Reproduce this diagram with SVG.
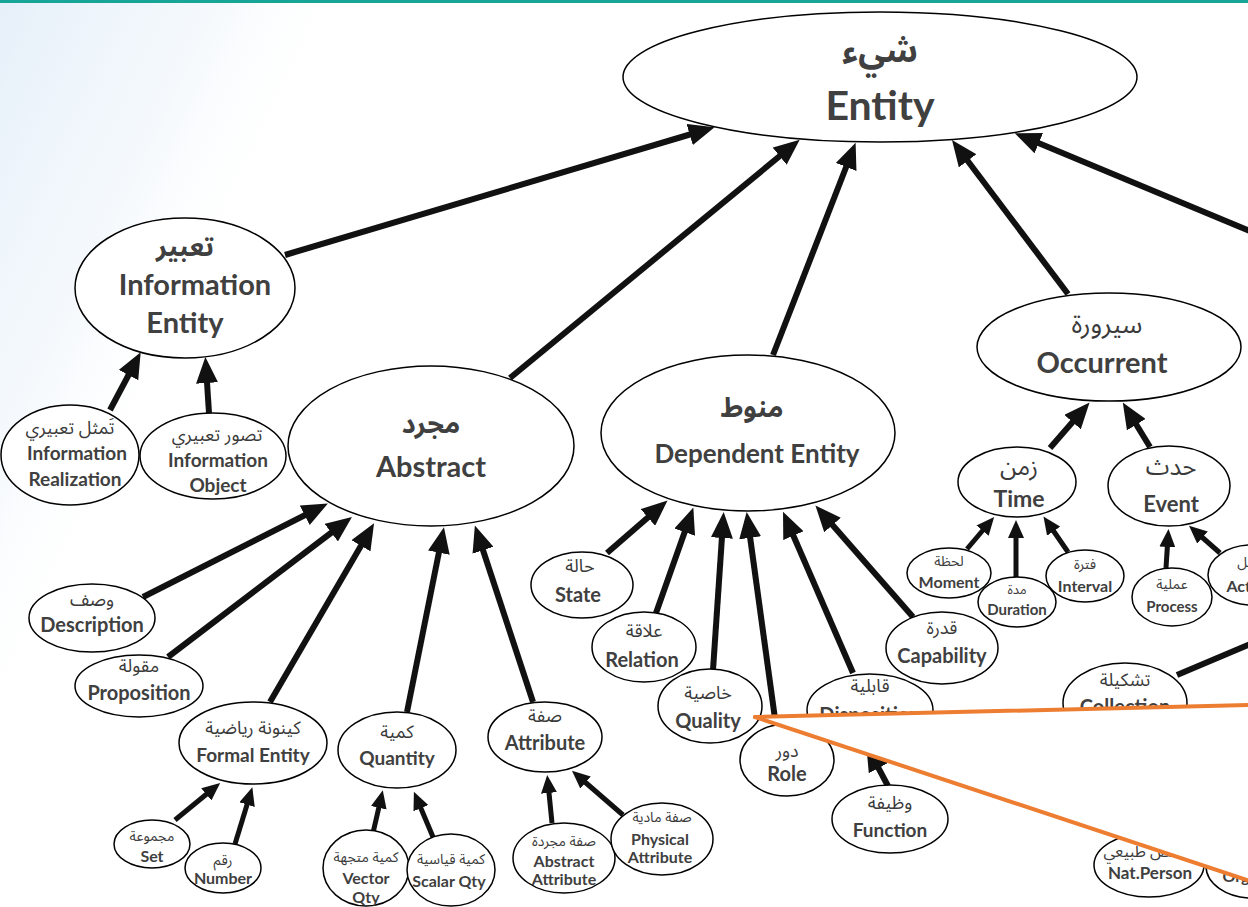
<svg xmlns="http://www.w3.org/2000/svg" width="1248" height="907" viewBox="0 0 1248 907">
<defs>
<linearGradient id="bg" x1="0" y1="0" x2="0.5" y2="0.5">
<stop offset="0" stop-color="#e3eef8" stop-opacity="0.9"/>
<stop offset="0.6" stop-color="#eef5fb" stop-opacity="0.6"/>
<stop offset="1" stop-color="#ffffff" stop-opacity="0"/>
</linearGradient>
<marker id="ah" markerUnits="userSpaceOnUse" markerWidth="26" markerHeight="22" refX="16" refY="11" orient="auto">
<path d="M0,0 L26,11 L0,22 z" fill="#111"/>
</marker>
<marker id="as" markerUnits="userSpaceOnUse" markerWidth="18" markerHeight="16" refX="10" refY="8" orient="auto">
<path d="M0,0 L18,8 L0,16 z" fill="#111"/>
</marker>
<style>
.e{fill:#fff;stroke:#000;stroke-width:1.5}
.t{font-family:Lato,"Noto Sans Arabic","DejaVu Sans",sans-serif;fill:#404040;font-weight:700;text-anchor:middle}
.a{font-family:"Noto Sans Arabic","DejaVu Sans",sans-serif;fill:#3a3a3a;font-weight:400;text-anchor:middle}
.big{stroke:#111;stroke-width:6;fill:none;marker-end:url(#ah)}
.sm{stroke:#111;stroke-width:5;fill:none;marker-end:url(#as)}
.co{stroke:#ed7d31;stroke-width:4;fill:none;stroke-linecap:round}
</style>
</defs>
<rect width="1248" height="907" fill="#fff"/>
<polygon points="0,0 360,0 0,760" fill="url(#bg)"/>
<rect x="0" y="0" width="1248" height="3" fill="#16a596"/>

<g id="connectors">
<line class="big" x1="285" y1="255" x2="705" y2="130"/>
<line class="big" x1="510" y1="378" x2="792" y2="146"/>
<line class="big" x1="773" y1="355" x2="852" y2="152"/>
<line class="big" x1="1068" y1="294" x2="958" y2="148"/>
<line class="big" x1="1262" y1="236" x2="1024" y2="137"/>
<line class="big" x1="110" y1="410" x2="136" y2="361"/>
<line class="big" x1="209" y1="413" x2="206" y2="367"/>
<line class="big" x1="143" y1="597" x2="319" y2="508"/>
<line class="big" x1="168" y1="657" x2="344" y2="523"/>
<line class="big" x1="270" y1="702" x2="369" y2="532"/>
<line class="big" x1="407" y1="712" x2="442" y2="537"/>
<line class="big" x1="533" y1="702" x2="478" y2="535"/>
<line class="big" x1="607" y1="553" x2="660" y2="507"/>
<line class="big" x1="656" y1="613" x2="690" y2="517"/>
<line class="big" x1="713" y1="670" x2="723" y2="522"/>
<line class="big" x1="776" y1="726" x2="748" y2="522"/>
<line class="big" x1="853" y1="673" x2="787" y2="521"/>
<line class="big" x1="913" y1="617" x2="822" y2="513"/>
<line class="big" x1="888" y1="786" x2="871" y2="754"/>
<line class="big" x1="1050" y1="448" x2="1083" y2="410"/>
<line class="big" x1="1150" y1="447" x2="1128" y2="411"/>
<line class="sm" x1="967" y1="549" x2="989" y2="523"/>
<line class="sm" x1="1016" y1="577" x2="1016" y2="528"/>
<line class="sm" x1="1068" y1="552" x2="1048" y2="523"/>
<line class="sm" x1="1166" y1="568" x2="1168" y2="537"/>
<line class="sm" x1="1220" y1="553" x2="1195" y2="531"/>
<line stroke="#111" stroke-width="6" x1="1177" y1="675" x2="1260" y2="640"/>
<line class="sm" x1="175" y1="820" x2="214" y2="788"/>
<line class="sm" x1="235" y1="844" x2="250" y2="795"/>
<line class="sm" x1="373" y1="833" x2="381" y2="798"/>
<line class="sm" x1="433" y1="837" x2="417" y2="799"/>
<line class="sm" x1="552" y1="823" x2="548" y2="783"/>
<line class="sm" x1="623" y1="815" x2="578" y2="776"/>
</g>

<g id="entity">
<ellipse class="e" cx="880" cy="77" rx="257" ry="65"/>
<text class="t" x="880" y="62" font-size="34">شيء</text>
<text class="t" x="880" y="120" font-size="41">Entity</text>
</g>
<g id="information-entity">
<ellipse class="e" cx="185" cy="288" rx="110" ry="70"/>
<text class="t" x="185" y="256" font-size="27">تعبير</text>
<text class="t" x="195" y="295" font-size="29">Information</text>
<text class="t" x="185" y="333" font-size="29">Entity</text>
</g>
<g id="information-realization">
<ellipse class="e" cx="70" cy="455" rx="69" ry="50"/>
<text class="a" x="70" y="434" font-size="18">تَمثل تعبيري</text>
<text class="t" x="77" y="460" font-size="19">Information</text>
<text class="t" x="75" y="486" font-size="19">Realization</text>
</g>
<g id="information-object">
<ellipse class="e" cx="213" cy="456" rx="73" ry="43"/>
<text class="a" x="217" y="441" font-size="18">تصور تعبيري</text>
<text class="t" x="218" y="467" font-size="19">Information</text>
<text class="t" x="218" y="492" font-size="19">Object</text>
</g>
<g id="abstract">
<ellipse class="e" cx="431" cy="446" rx="143" ry="80"/>
<text class="t" x="431" y="433" font-size="27">مجرد</text>
<text class="t" x="431" y="477" font-size="29">Abstract</text>
</g>
<g id="dependent-entity">
<ellipse class="e" cx="748" cy="433" rx="147" ry="78"/>
<text class="t" x="752" y="417" font-size="27">منوط</text>
<text class="t" x="757" y="463" font-size="26">Dependent Entity</text>
</g>
<g id="occurrent">
<ellipse class="e" cx="1109" cy="347" rx="132" ry="54"/>
<text class="a" x="1107" y="333" font-size="26">سيرورة</text>
<text class="t" x="1102" y="373" font-size="29">Occurrent</text>
</g>
<g id="time">
<ellipse class="e" cx="1017" cy="482" rx="59" ry="35"/>
<text class="a" x="1019" y="475" font-size="24">زمن</text>
<text class="t" x="1019" y="507" font-size="23">Time</text>
</g>
<g id="event">
<ellipse class="e" cx="1169" cy="486" rx="61" ry="40"/>
<text class="a" x="1171" y="475" font-size="24">حدث</text>
<text class="t" x="1171" y="512" font-size="22">Event</text>
</g>
<g id="moment">
<ellipse class="e" cx="949" cy="573" rx="42" ry="25"/>
<text class="a" x="949" y="566" font-size="14">لحظة</text>
<text class="t" x="949" y="588" font-size="16">Moment</text>
</g>
<g id="duration">
<ellipse class="e" cx="1017" cy="602" rx="39" ry="25"/>
<text class="a" x="1017" y="594" font-size="13">مدة</text>
<text class="t" x="1017" y="615" font-size="15">Duration</text>
</g>
<g id="interval">
<ellipse class="e" cx="1085" cy="576" rx="39" ry="26"/>
<text class="a" x="1085" y="569" font-size="14">فترة</text>
<text class="t" x="1085" y="592" font-size="16">Interval</text>
</g>
<g id="process">
<ellipse class="e" cx="1172" cy="597" rx="40" ry="29"/>
<text class="a" x="1172" y="589" font-size="14">عملية</text>
<text class="t" x="1172" y="612" font-size="15">Process</text>
</g>
<g id="action">
<ellipse class="e" cx="1252" cy="575" rx="44" ry="30"/>
<text class="a" x="1250" y="567" font-size="14">عمل</text>
<text class="t" x="1250" y="592" font-size="16">Action</text>
</g>
<g id="description">
<ellipse class="e" cx="92" cy="618" rx="63" ry="34"/>
<text class="a" x="92" y="606" font-size="18">وصف</text>
<text class="t" x="92" y="632" font-size="20">Description</text>
</g>
<g id="proposition">
<ellipse class="e" cx="139" cy="686" rx="64" ry="31"/>
<text class="a" x="139" y="672" font-size="18">مقولة</text>
<text class="t" x="139" y="700" font-size="20">Proposition</text>
</g>
<g id="formal-entity">
<ellipse class="e" cx="253" cy="743" rx="74" ry="41"/>
<text class="a" x="253" y="734" font-size="18">كينونة رياضية</text>
<text class="t" x="253" y="762" font-size="19">Formal Entity</text>
</g>
<g id="quantity">
<ellipse class="e" cx="397" cy="750" rx="59" ry="38"/>
<text class="a" x="397" y="738" font-size="18">كمية</text>
<text class="t" x="397" y="765" font-size="19">Quantity</text>
</g>
<g id="attribute">
<ellipse class="e" cx="545" cy="737" rx="57" ry="35"/>
<text class="a" x="545" y="722" font-size="18">صفة</text>
<text class="t" x="545" y="750" font-size="20">Attribute</text>
</g>
<g id="set">
<ellipse class="e" cx="152" cy="844" rx="38" ry="24"/>
<text class="a" x="152" y="841" font-size="14">مجموعة</text>
<text class="t" x="152" y="862" font-size="16">Set</text>
</g>
<g id="number">
<ellipse class="e" cx="223" cy="868" rx="38" ry="25"/>
<text class="a" x="223" y="865" font-size="14">رقم</text>
<text class="t" x="223" y="884" font-size="16">Number</text>
</g>
<g id="vector-qty">
<ellipse class="e" cx="366" cy="868" rx="43" ry="38"/>
<text class="a" x="366" y="862" font-size="14">كمية متجهة</text>
<text class="t" x="366" y="884" font-size="16">Vector</text>
<text class="t" x="366" y="903" font-size="16">Qty</text>
</g>
<g id="scalar-qty">
<ellipse class="e" cx="451" cy="870" rx="44" ry="36"/>
<text class="a" x="451" y="864" font-size="14">كمية قياسية</text>
<text class="t" x="449" y="887" font-size="16">Scalar Qty</text>
</g>
<g id="abstract-attribute">
<ellipse class="e" cx="564" cy="858" rx="51" ry="35"/>
<text class="a" x="564" y="846" font-size="14">صفة مجردة</text>
<text class="t" x="564" y="867" font-size="16">Abstract</text>
<text class="t" x="564" y="885" font-size="16">Attribute</text>
</g>
<g id="physical-attribute">
<ellipse class="e" cx="662" cy="839" rx="51" ry="36"/>
<text class="a" x="662" y="822" font-size="14">صفة مادية</text>
<text class="t" x="660" y="845" font-size="16">Physical</text>
<text class="t" x="660" y="863" font-size="16">Attribute</text>
</g>
<g id="state">
<ellipse class="e" cx="582" cy="585" rx="51" ry="33"/>
<text class="a" x="580" y="572" font-size="18">حالة</text>
<text class="t" x="578" y="602" font-size="20">State</text>
</g>
<g id="relation">
<ellipse class="e" cx="644" cy="647" rx="52" ry="35"/>
<text class="a" x="644" y="637" font-size="18">علاقة</text>
<text class="t" x="642" y="667" font-size="20">Relation</text>
</g>
<g id="quality">
<ellipse class="e" cx="710" cy="706" rx="52" ry="37"/>
<text class="a" x="708" y="699" font-size="18">خاصية</text>
<text class="t" x="708" y="728" font-size="20">Quality</text>
</g>
<g id="role">
<ellipse class="e" cx="787" cy="760" rx="47" ry="36"/>
<text class="a" x="787" y="757" font-size="18">دور</text>
<text class="t" x="787" y="781" font-size="20">Role</text>
</g>
<g id="disposition">
<ellipse class="e" cx="870" cy="710" rx="63" ry="36"/>
<text class="a" x="870" y="692" font-size="18">قابلية</text>
<text class="t" x="870" y="722" font-size="20">Disposition</text>
</g>
<g id="capability">
<ellipse class="e" cx="942" cy="648" rx="56" ry="36"/>
<text class="a" x="942" y="634" font-size="18">قدرة</text>
<text class="t" x="942" y="663" font-size="20">Capability</text>
</g>
<g id="function">
<ellipse class="e" cx="890" cy="819" rx="58" ry="34"/>
<text class="a" x="890" y="809" font-size="18">وظيفة</text>
<text class="t" x="890" y="837" font-size="19">Function</text>
</g>
<g id="collection">
<ellipse class="e" cx="1125" cy="703" rx="62" ry="40"/>
<text class="a" x="1125" y="686" font-size="18">تشكيلة</text>
<text class="t" x="1125" y="714" font-size="20">Collection</text>
</g>
<g id="nat-person">
<ellipse class="e" cx="1149" cy="865" rx="55" ry="32"/>
<text class="a" x="1149" y="857" font-size="16">شخص طبيعي</text>
<text class="t" x="1150" y="879" font-size="17">Nat.Person</text>
</g>
<g id="organization">
<ellipse class="e" cx="1252" cy="866" rx="46" ry="32"/>
<text class="t" x="1236" y="882" font-size="16">Org</text>
</g>

<g id="callout">
<polygon points="755,717 1250,705 1250,881" fill="#fff"/>
<line class="co" x1="755" y1="717" x2="1250" y2="705"/>
<line class="co" x1="755" y1="717" x2="1250" y2="881"/>
</g>
</svg>
